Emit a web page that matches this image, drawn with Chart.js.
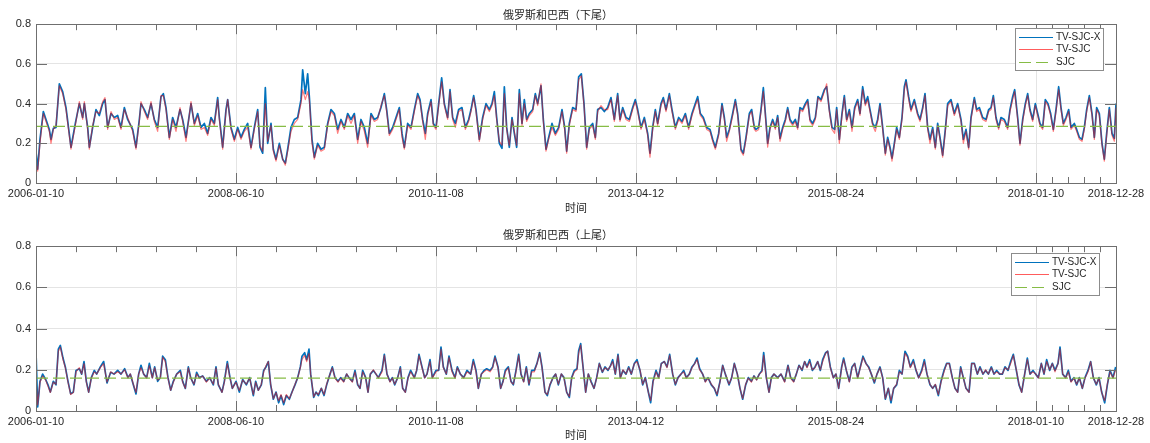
<!DOCTYPE html>
<html>
<head>
<meta charset="utf-8">
<title>俄罗斯和巴西 尾部相关</title>
<script src="https://cdn.jsdelivr.net/npm/chart.js@4.4.1/dist/chart.umd.min.js"></script>
<style>
    html, body { margin: 0; padding: 0; background: #fff; }
    #wrap { position: relative; width: 1150px; height: 443px; }
    #wrap canvas { position: absolute; left: 0; }
    #lowerChart { top: 0; }
    #upperChart { top: 220px; }
</style>
</head>
<body>
<div id="wrap">
    <canvas id="lowerChart" width="1150" height="220"></canvas>
    <canvas id="upperChart" width="1150" height="223"></canvas>
</div>
<script>
// Axis ticks (trading-day index from 2006-01-10)
const majorDays = [0, 600, 1200, 1800, 2400, 3000, 3240];
const dateLabels = ['2006-01-10', '2008-06-10', '2010-11-08', '2013-04-12', '2015-08-24', '2018-01-10', '2018-12-28'];
const yTicks = [0, 0.2, 0.4, 0.6, 0.8];
const seriesNames = ['TV-SJC-X', 'TV-SJC', 'SJC'];

// Lower tail (下尾)
const lowerSJC = 0.285;
const lowerDays = [
    0, 5, 12, 22, 30, 40, 45, 52, 60, 70, 80, 90, 105, 118, 130, 140, 145, 155, 160, 170,
    180, 190, 200, 207, 215, 225, 235, 245, 255, 265, 275, 290, 300, 310, 315, 325, 335, 345, 355, 365,
    375, 382, 390, 400, 410, 420, 432, 440, 450, 465, 475, 485, 495, 505, 515, 525, 535, 545, 550, 560,
    570, 575, 585, 595, 605, 615, 625, 635, 645, 655, 665, 672, 680, 688, 695, 705, 712, 720, 730, 740,
    748, 755, 765, 775, 785, 795, 800, 808, 815, 820, 828, 835, 845, 855, 865, 875, 885, 895, 905, 915,
    925, 935, 945, 955, 965, 975, 985, 995, 1005, 1015, 1025, 1035, 1045, 1052, 1060, 1070,
    1080, 1090, 1098, 1105, 1115, 1125, 1135, 1145, 1152, 1160, 1168, 1175, 1185, 1192, 1200, 1208, 1217, 1225, 1235, 1242,
    1250, 1258, 1268, 1278, 1288, 1298, 1305, 1313, 1320, 1330, 1340, 1350, 1360, 1368, 1375, 1382, 1390, 1398, 1405, 1412,
    1420, 1428, 1435, 1442, 1450, 1458, 1465, 1472, 1480, 1490, 1498, 1505, 1515, 1522, 1530, 1538, 1548, 1558, 1568, 1578,
    1586, 1592, 1600, 1610, 1620, 1628, 1636, 1644, 1652, 1660, 1670, 1678, 1685, 1695, 1705, 1715, 1725, 1735, 1745, 1752,
    1760, 1770, 1780, 1790, 1798, 1805, 1815, 1825, 1835, 1842, 1850, 1858, 1865, 1875, 1882, 1890, 1900, 1908, 1918, 1928,
    1938, 1948, 1958, 1968, 1978, 1985, 1993, 2002, 2012, 2022, 2030, 2038, 2048, 2058, 2065, 2072, 2080, 2090, 2098, 2105,
    2115, 2122, 2130, 2140, 2147, 2155,
    2160, 2168, 2175, 2182, 2188, 2195, 2202, 2210, 2218, 2225, 2232, 2240, 2248, 2255, 2262, 2270, 2278, 2285, 2292, 2300,
    2308, 2315, 2322, 2330, 2338, 2346, 2355, 2365, 2372, 2380, 2388, 2396, 2402, 2410, 2418, 2425, 2432, 2440, 2448, 2456,
    2465, 2472, 2480, 2488, 2495, 2502, 2510, 2518, 2525, 2532, 2540, 2548, 2555, 2562, 2568, 2575, 2582, 2590, 2598, 2605,
    2610, 2618, 2625, 2635, 2645, 2652, 2660, 2667, 2675, 2682, 2690, 2698, 2705, 2712, 2720, 2728, 2735, 2745, 2755, 2765,
    2775, 2782, 2790, 2798, 2805, 2815, 2822, 2830, 2840, 2850, 2858, 2865, 2872, 2880, 2888, 2895, 2905, 2915, 2922, 2930,
    2936, 2945, 2952, 2960, 2968, 2975, 2982, 2990, 2998, 3005, 3012, 3020, 3028, 3036, 3044, 3052, 3060, 3068, 3075, 3082,
    3090, 3098, 3105, 3115, 3122, 3130, 3138, 3145, 3152, 3160, 3168, 3175, 3182, 3190, 3198, 3205, 3212, 3220, 3228, 3235,
    3240
];
const lowerX = [
    0.16, 0.07, 0.22, 0.36, 0.32, 0.27, 0.22, 0.275, 0.28, 0.50, 0.46, 0.38, 0.18, 0.30, 0.40, 0.33, 0.40, 0.28, 0.18, 0.28,
    0.37, 0.34, 0.40, 0.42, 0.28, 0.35, 0.33, 0.34, 0.28, 0.38, 0.32, 0.27, 0.18, 0.32, 0.40, 0.37, 0.33, 0.40, 0.32, 0.28,
    0.435, 0.45, 0.38, 0.23, 0.33, 0.28, 0.37, 0.32, 0.23, 0.40, 0.30, 0.35, 0.28, 0.30, 0.25, 0.33, 0.30, 0.43, 0.33, 0.18,
    0.37, 0.42, 0.28, 0.22, 0.28, 0.23, 0.27, 0.30, 0.18, 0.28, 0.37, 0.18, 0.15, 0.48, 0.20, 0.30, 0.17, 0.12, 0.20, 0.12,
    0.10, 0.17, 0.28, 0.32, 0.33, 0.42, 0.57, 0.45, 0.55, 0.435, 0.22, 0.13, 0.20, 0.17, 0.18, 0.30, 0.37, 0.35, 0.27, 0.32,
    0.28, 0.35, 0.32, 0.35, 0.22, 0.32, 0.28, 0.20, 0.35, 0.32, 0.33, 0.38, 0.45, 0.37, 0.25, 0.28,
    0.33, 0.38, 0.25, 0.18, 0.30, 0.28, 0.37, 0.45, 0.42, 0.32, 0.25, 0.35, 0.42, 0.30, 0.28, 0.40, 0.53, 0.40, 0.33, 0.47,
    0.33, 0.30, 0.37, 0.38, 0.28, 0.32, 0.37, 0.44, 0.37, 0.22, 0.33, 0.40, 0.37, 0.40, 0.46, 0.33, 0.20, 0.175, 0.485, 0.28,
    0.18, 0.33, 0.25, 0.18, 0.47, 0.30, 0.42, 0.32, 0.35, 0.37, 0.45, 0.40, 0.49, 0.32, 0.17, 0.23, 0.30, 0.25, 0.28, 0.37,
    0.28, 0.16, 0.30, 0.38, 0.37, 0.535, 0.55, 0.40, 0.18, 0.28, 0.30, 0.23, 0.37, 0.38, 0.36, 0.38, 0.43, 0.32, 0.45, 0.32,
    0.38, 0.33, 0.32, 0.38, 0.42, 0.37, 0.28, 0.33, 0.25, 0.15, 0.28, 0.37, 0.30, 0.40, 0.43, 0.37, 0.45, 0.37, 0.28, 0.33,
    0.31, 0.35, 0.28, 0.35, 0.40, 0.435, 0.35, 0.33, 0.28, 0.27, 0.22, 0.18, 0.25, 0.40, 0.33, 0.23, 0.27, 0.35, 0.42, 0.35,
    0.17, 0.15, 0.23, 0.35, 0.37, 0.28,
    0.27, 0.28, 0.37, 0.48, 0.35, 0.20, 0.28, 0.32, 0.28, 0.34, 0.225, 0.28, 0.32, 0.38, 0.32, 0.30, 0.32, 0.28, 0.38, 0.37,
    0.40, 0.42, 0.32, 0.30, 0.33, 0.435, 0.42, 0.47, 0.485, 0.37, 0.28, 0.27, 0.38, 0.22, 0.35, 0.44, 0.32, 0.37, 0.28, 0.38,
    0.42, 0.35, 0.485, 0.40, 0.435, 0.37, 0.30, 0.28, 0.32, 0.40, 0.28, 0.15, 0.23, 0.18, 0.125, 0.20, 0.28, 0.23, 0.33, 0.485,
    0.52, 0.435, 0.37, 0.42, 0.35, 0.32, 0.38, 0.45, 0.28, 0.22, 0.28, 0.18, 0.30, 0.23, 0.14, 0.27, 0.40, 0.42, 0.35, 0.40,
    0.32, 0.22, 0.27, 0.18, 0.33, 0.43, 0.37, 0.38, 0.33, 0.32, 0.37, 0.38, 0.44, 0.33, 0.28, 0.33, 0.32, 0.28, 0.37, 0.435,
    0.47, 0.33, 0.20, 0.32, 0.40, 0.45, 0.37, 0.32, 0.40, 0.35, 0.30, 0.28, 0.42, 0.40, 0.35, 0.27, 0.37, 0.485, 0.38, 0.30,
    0.33, 0.37, 0.28, 0.30, 0.27, 0.23, 0.22, 0.28, 0.37, 0.44, 0.35, 0.23, 0.38, 0.35, 0.20, 0.12, 0.25, 0.38, 0.25, 0.225,
    0.40
];
const lowerTV = [
    0.10, 0.06, 0.20, 0.35, 0.31, 0.26, 0.20, 0.27, 0.29, 0.49, 0.45, 0.37, 0.17, 0.29, 0.41, 0.32, 0.41, 0.27, 0.17, 0.29,
    0.36, 0.35, 0.41, 0.43, 0.27, 0.36, 0.32, 0.33, 0.27, 0.37, 0.33, 0.26, 0.17, 0.31, 0.41, 0.36, 0.32, 0.41, 0.31, 0.26,
    0.44, 0.44, 0.37, 0.22, 0.32, 0.26, 0.38, 0.31, 0.21, 0.41, 0.29, 0.34, 0.27, 0.28, 0.24, 0.32, 0.29, 0.42, 0.32, 0.17,
    0.36, 0.42, 0.27, 0.21, 0.27, 0.22, 0.26, 0.28, 0.17, 0.27, 0.36, 0.19, 0.16, 0.40, 0.21, 0.29, 0.16, 0.11, 0.19, 0.12,
    0.09, 0.16, 0.26, 0.30, 0.32, 0.40, 0.47, 0.42, 0.46, 0.42, 0.20, 0.12, 0.19, 0.16, 0.17, 0.29, 0.36, 0.34, 0.25, 0.31,
    0.27, 0.34, 0.30, 0.34, 0.20, 0.31, 0.26, 0.18, 0.34, 0.31, 0.32, 0.39, 0.44, 0.36, 0.24, 0.27,
    0.32, 0.37, 0.23, 0.17, 0.29, 0.27, 0.36, 0.44, 0.41, 0.31, 0.22, 0.34, 0.41, 0.29, 0.27, 0.39, 0.51, 0.39, 0.32, 0.46,
    0.32, 0.28, 0.36, 0.37, 0.27, 0.31, 0.36, 0.43, 0.36, 0.21, 0.32, 0.39, 0.36, 0.39, 0.44, 0.32, 0.21, 0.19, 0.45, 0.27,
    0.19, 0.32, 0.26, 0.19, 0.45, 0.29, 0.40, 0.31, 0.34, 0.36, 0.44, 0.39, 0.50, 0.31, 0.16, 0.22, 0.28, 0.24, 0.27, 0.36,
    0.27, 0.15, 0.29, 0.37, 0.36, 0.52, 0.54, 0.39, 0.17, 0.27, 0.29, 0.22, 0.36, 0.39, 0.37, 0.37, 0.42, 0.31, 0.44, 0.31,
    0.37, 0.32, 0.31, 0.37, 0.41, 0.36, 0.27, 0.32, 0.24, 0.13, 0.27, 0.36, 0.29, 0.39, 0.42, 0.36, 0.44, 0.36, 0.27, 0.32,
    0.30, 0.34, 0.27, 0.34, 0.39, 0.42, 0.34, 0.32, 0.27, 0.26, 0.21, 0.17, 0.24, 0.39, 0.32, 0.21, 0.26, 0.34, 0.41, 0.34,
    0.16, 0.14, 0.22, 0.34, 0.36, 0.27,
    0.26, 0.27, 0.36, 0.46, 0.34, 0.18, 0.27, 0.31, 0.27, 0.33, 0.21, 0.27, 0.31, 0.37, 0.31, 0.29, 0.31, 0.27, 0.37, 0.36,
    0.39, 0.41, 0.31, 0.29, 0.32, 0.43, 0.41, 0.46, 0.50, 0.36, 0.27, 0.25, 0.37, 0.20, 0.34, 0.43, 0.31, 0.36, 0.26, 0.37,
    0.41, 0.34, 0.47, 0.39, 0.42, 0.36, 0.29, 0.26, 0.31, 0.39, 0.27, 0.14, 0.22, 0.17, 0.11, 0.19, 0.27, 0.22, 0.32, 0.47,
    0.51, 0.42, 0.36, 0.41, 0.34, 0.31, 0.37, 0.44, 0.27, 0.20, 0.27, 0.17, 0.29, 0.22, 0.13, 0.26, 0.39, 0.41, 0.34, 0.39,
    0.31, 0.20, 0.26, 0.17, 0.32, 0.42, 0.36, 0.37, 0.32, 0.31, 0.36, 0.37, 0.43, 0.32, 0.27, 0.32, 0.31, 0.27, 0.36, 0.42,
    0.46, 0.32, 0.19, 0.31, 0.39, 0.44, 0.36, 0.31, 0.39, 0.34, 0.29, 0.27, 0.41, 0.39, 0.34, 0.26, 0.36, 0.47, 0.37, 0.29,
    0.32, 0.36, 0.27, 0.29, 0.26, 0.22, 0.21, 0.27, 0.36, 0.43, 0.34, 0.22, 0.37, 0.34, 0.19, 0.11, 0.24, 0.37, 0.24, 0.21,
    0.38
];

// Upper tail (上尾)
const upperSJC = 0.16;
const upperDays = [
    0, 5, 12, 20, 29, 36, 43, 52, 60, 67, 73, 81, 88, 96, 104, 112, 120, 130, 137, 144,
    151, 158, 166, 175, 182, 193, 203, 213, 224, 234, 245, 255, 266, 276, 283, 292, 300, 308, 315, 323,
    332, 340, 349, 356, 365, 373, 380, 388, 396, 404, 412, 422, 433, 440, 448, 457, 464, 474, 482, 490,
    500, 511, 521, 532, 540, 547, 558, 565, 574, 582, 589, 600, 610, 620, 631, 641, 652, 659, 667, 676,
    683, 690, 697, 704, 712, 720, 728, 735, 743, 751, 760, 768, 777, 785, 793, 798, 806, 812, 819, 824,
    833, 840, 847, 856, 864, 872, 882, 889, 897, 906, 914, 923, 932, 939, 949, 957, 965, 972, 980, 989,
    996, 1003, 1012, 1020, 1027, 1038, 1045, 1053, 1062, 1069, 1076, 1085, 1093, 1100, 1108, 1116, 1124, 1135, 1142, 1149,
    1158, 1166, 1173, 1182, 1189, 1200, 1208, 1215, 1222, 1231, 1239, 1248, 1257, 1264, 1273, 1283, 1293, 1304, 1312, 1320,
    1327, 1336, 1344, 1352, 1362, 1370, 1377, 1386, 1394, 1401, 1408, 1417, 1425, 1432, 1440, 1448, 1455, 1463, 1471, 1479,
    1487, 1495, 1503, 1511, 1518, 1527, 1534, 1542, 1551, 1559, 1567, 1576, 1584, 1592, 1600, 1607, 1615, 1623,
    1628, 1634, 1640, 1649, 1657, 1665, 1674, 1682, 1690, 1699, 1707, 1716, 1724, 1730, 1738, 1746, 1753, 1761, 1770, 1778,
    1786, 1795, 1803, 1812, 1820, 1828, 1837, 1844, 1851, 1860, 1868, 1876, 1885, 1893, 1901, 1910, 1918, 1926, 1935, 1943,
    1951, 1960, 1968, 1976, 1983, 1991, 2000, 2008, 2016, 2026, 2035, 2043, 2052, 2060, 2068, 2079, 2087, 2095, 2104, 2112,
    2120, 2129, 2137, 2146, 2154, 2162, 2170, 2178, 2183, 2191, 2199, 2206, 2214, 2225, 2235, 2246, 2256, 2264, 2273, 2281,
    2289, 2298, 2306, 2313, 2321, 2329, 2337, 2345, 2353, 2360, 2369, 2375, 2383, 2392, 2400, 2408, 2417, 2423, 2431, 2440,
    2448, 2456, 2465, 2473, 2481, 2490, 2498, 2506, 2515, 2523, 2532, 2540, 2548, 2557, 2565, 2573, 2582, 2590, 2598, 2607,
    2615, 2623, 2632, 2640, 2648, 2657, 2665, 2673, 2682, 2690, 2698, 2707, 2715, 2724, 2732, 2740, 2749, 2757, 2765, 2774,
    2782, 2790, 2799, 2807, 2815, 2824, 2832, 2841, 2849, 2857, 2866, 2874, 2882, 2891, 2899, 2907, 2916, 2924, 2932, 2941,
    2949, 2957, 2966, 2974, 2982, 2991, 2999, 3007, 3016, 3024, 3032, 3041, 3049, 3057, 3066, 3072, 3080, 3089, 3097, 3105,
    3114, 3122, 3130, 3139, 3147, 3156, 3164, 3172, 3181, 3189, 3197, 3206, 3214, 3222, 3231, 3239
];
const upperX = [
    0.29, 0.02, 0.144, 0.179, 0.153, 0.127, 0.092, 0.144, 0.127, 0.30, 0.318, 0.257, 0.214, 0.144, 0.083, 0.092, 0.197, 0.205, 0.179, 0.24,
    0.144, 0.092, 0.162, 0.197, 0.179, 0.214, 0.24, 0.136, 0.188, 0.179, 0.197, 0.179, 0.205, 0.162, 0.179, 0.127, 0.083, 0.179, 0.222, 0.179,
    0.162, 0.231, 0.162, 0.214, 0.144, 0.162, 0.266, 0.249, 0.162, 0.101, 0.144, 0.179, 0.197, 0.144, 0.11, 0.214, 0.162, 0.127, 0.188, 0.162,
    0.170, 0.144, 0.162, 0.127, 0.214, 0.127, 0.092, 0.144, 0.24, 0.162, 0.11, 0.144, 0.092, 0.153, 0.127, 0.162, 0.075, 0.144, 0.101, 0.127,
    0.197, 0.214, 0.24, 0.127, 0.057, 0.092, 0.04, 0.075, 0.031, 0.075, 0.057, 0.092, 0.127, 0.162, 0.214, 0.266, 0.283, 0.249, 0.30, 0.179,
    0.066, 0.092, 0.075, 0.11, 0.075, 0.127, 0.179, 0.214, 0.162, 0.144, 0.162, 0.144, 0.179, 0.162, 0.144, 0.197, 0.127, 0.11, 0.197, 0.162,
    0.092, 0.179, 0.197, 0.179, 0.162, 0.197, 0.275, 0.179, 0.144, 0.162, 0.127, 0.162, 0.214, 0.11, 0.092, 0.162, 0.197, 0.162, 0.197, 0.275,
    0.214, 0.162, 0.179, 0.249, 0.162, 0.197, 0.197, 0.31, 0.214, 0.179, 0.266, 0.197, 0.162, 0.214, 0.179, 0.162, 0.197, 0.179, 0.249, 0.197,
    0.11, 0.179, 0.197, 0.205, 0.197, 0.214, 0.266, 0.214, 0.11, 0.144, 0.197, 0.214, 0.144, 0.127, 0.197, 0.275, 0.179, 0.144, 0.214, 0.127,
    0.197, 0.197, 0.231, 0.283, 0.214, 0.092, 0.075, 0.127, 0.162, 0.179, 0.127, 0.179, 0.162, 0.092, 0.066, 0.162, 0.197, 0.205,
    0.292, 0.327, 0.231, 0.092, 0.179, 0.144, 0.11, 0.162, 0.231, 0.188, 0.214, 0.197, 0.222, 0.249, 0.179, 0.275, 0.162, 0.197, 0.179, 0.214,
    0.179, 0.231, 0.249, 0.197, 0.127, 0.162, 0.092, 0.04, 0.144, 0.197, 0.162, 0.231, 0.24, 0.214, 0.275, 0.179, 0.127, 0.162, 0.179, 0.197,
    0.162, 0.179, 0.214, 0.231, 0.257, 0.205, 0.179, 0.144, 0.162, 0.127, 0.11, 0.075, 0.144, 0.222, 0.179, 0.127, 0.162, 0.231, 0.179, 0.11,
    0.057, 0.127, 0.162, 0.144, 0.170, 0.153, 0.179, 0.197, 0.283, 0.162, 0.092, 0.162, 0.179, 0.162, 0.179, 0.144, 0.222, 0.162, 0.144, 0.179,
    0.222, 0.197, 0.24, 0.214, 0.249, 0.197, 0.214, 0.24, 0.197, 0.249, 0.283, 0.29, 0.214, 0.162, 0.179, 0.11, 0.214, 0.257, 0.197, 0.144,
    0.214, 0.231, 0.162, 0.214, 0.266, 0.231, 0.214, 0.179, 0.136, 0.179, 0.214, 0.162, 0.057, 0.11, 0.04, 0.11, 0.127, 0.197, 0.179, 0.29,
    0.266, 0.214, 0.249, 0.197, 0.162, 0.197, 0.249, 0.179, 0.127, 0.11, 0.127, 0.075, 0.144, 0.197, 0.231, 0.231, 0.162, 0.11, 0.092, 0.214,
    0.162, 0.11, 0.092, 0.231, 0.231, 0.179, 0.214, 0.179, 0.197, 0.179, 0.214, 0.179, 0.197, 0.179, 0.179, 0.214, 0.197, 0.24, 0.275, 0.197,
    0.127, 0.092, 0.179, 0.257, 0.179, 0.197, 0.179, 0.162, 0.231, 0.179, 0.249, 0.197, 0.231, 0.197, 0.231, 0.31, 0.179, 0.162, 0.197, 0.144,
    0.162, 0.127, 0.162, 0.11, 0.162, 0.197, 0.24, 0.162, 0.127, 0.162, 0.092, 0.04, 0.127, 0.197, 0.162, 0.214
];
const upperTV = [
    0.16, 0.03, 0.14, 0.17, 0.15, 0.12, 0.09, 0.14, 0.13, 0.29, 0.31, 0.25, 0.21, 0.14, 0.08, 0.09, 0.19, 0.21, 0.18, 0.23,
    0.14, 0.09, 0.16, 0.19, 0.18, 0.21, 0.23, 0.14, 0.19, 0.18, 0.19, 0.18, 0.20, 0.16, 0.18, 0.13, 0.09, 0.18, 0.21, 0.18,
    0.16, 0.22, 0.16, 0.21, 0.15, 0.16, 0.26, 0.24, 0.16, 0.10, 0.14, 0.18, 0.19, 0.14, 0.11, 0.21, 0.16, 0.13, 0.18, 0.16,
    0.17, 0.14, 0.16, 0.13, 0.21, 0.13, 0.09, 0.14, 0.23, 0.16, 0.11, 0.14, 0.10, 0.15, 0.13, 0.16, 0.08, 0.14, 0.10, 0.13,
    0.19, 0.22, 0.24, 0.13, 0.06, 0.09, 0.05, 0.08, 0.04, 0.08, 0.06, 0.09, 0.13, 0.16, 0.21, 0.25, 0.27, 0.24, 0.28, 0.18,
    0.07, 0.09, 0.08, 0.11, 0.08, 0.13, 0.18, 0.21, 0.16, 0.14, 0.16, 0.14, 0.18, 0.16, 0.14, 0.19, 0.13, 0.11, 0.19, 0.16,
    0.09, 0.18, 0.20, 0.18, 0.16, 0.19, 0.27, 0.18, 0.14, 0.16, 0.13, 0.16, 0.21, 0.11, 0.09, 0.16, 0.19, 0.16, 0.20, 0.27,
    0.21, 0.16, 0.18, 0.24, 0.16, 0.19, 0.20, 0.30, 0.21, 0.18, 0.26, 0.19, 0.16, 0.21, 0.18, 0.16, 0.19, 0.18, 0.24, 0.19,
    0.11, 0.18, 0.19, 0.20, 0.19, 0.21, 0.26, 0.21, 0.11, 0.14, 0.19, 0.21, 0.14, 0.13, 0.19, 0.27, 0.18, 0.14, 0.21, 0.13,
    0.19, 0.19, 0.23, 0.28, 0.21, 0.09, 0.08, 0.13, 0.16, 0.18, 0.13, 0.18, 0.16, 0.09, 0.07, 0.16, 0.19, 0.20,
    0.28, 0.32, 0.23, 0.09, 0.18, 0.14, 0.11, 0.16, 0.23, 0.19, 0.21, 0.20, 0.22, 0.24, 0.18, 0.27, 0.16, 0.20, 0.18, 0.21,
    0.18, 0.23, 0.24, 0.20, 0.13, 0.16, 0.09, 0.05, 0.14, 0.19, 0.16, 0.23, 0.24, 0.21, 0.27, 0.18, 0.13, 0.16, 0.18, 0.19,
    0.16, 0.18, 0.21, 0.23, 0.25, 0.20, 0.18, 0.14, 0.16, 0.13, 0.11, 0.08, 0.14, 0.22, 0.18, 0.13, 0.16, 0.23, 0.18, 0.11,
    0.06, 0.13, 0.16, 0.14, 0.17, 0.15, 0.18, 0.19, 0.27, 0.16, 0.09, 0.16, 0.18, 0.16, 0.18, 0.14, 0.22, 0.16, 0.14, 0.18,
    0.22, 0.20, 0.24, 0.21, 0.24, 0.20, 0.21, 0.24, 0.20, 0.24, 0.28, 0.29, 0.21, 0.16, 0.18, 0.11, 0.21, 0.25, 0.20, 0.14,
    0.21, 0.23, 0.16, 0.21, 0.26, 0.23, 0.21, 0.18, 0.14, 0.18, 0.21, 0.16, 0.06, 0.11, 0.05, 0.11, 0.13, 0.19, 0.18, 0.28,
    0.26, 0.21, 0.24, 0.20, 0.16, 0.19, 0.24, 0.18, 0.13, 0.11, 0.13, 0.08, 0.14, 0.19, 0.23, 0.23, 0.16, 0.11, 0.09, 0.21,
    0.16, 0.11, 0.09, 0.23, 0.23, 0.18, 0.21, 0.18, 0.20, 0.18, 0.21, 0.18, 0.19, 0.18, 0.18, 0.21, 0.20, 0.23, 0.27, 0.20,
    0.13, 0.09, 0.18, 0.25, 0.18, 0.19, 0.18, 0.16, 0.23, 0.18, 0.24, 0.20, 0.23, 0.19, 0.23, 0.30, 0.18, 0.16, 0.19, 0.14,
    0.16, 0.13, 0.16, 0.11, 0.16, 0.19, 0.24, 0.16, 0.13, 0.16, 0.09, 0.05, 0.13, 0.19, 0.16, 0.20
];

Chart.defaults.font.family = '"Liberation Sans", Arial, "Noto Sans CJK SC", sans-serif';
Chart.defaults.font.size = 11;
Chart.defaults.color = '#262626';

const axisColor = '#6f6f6f';

// MATLAB-style minor ticks: four between each pair of major ticks
const minorDays = [];
for (let i = 0; i < majorDays.length - 1; i++) {
    const step = (majorDays[i + 1] - majorDays[i]) / 5;
    for (let k = 1; k < 5; k++) minorDays.push(majorDays[i] + k * step);
}

// Box, inward ticks and the boxed legend
const matlabAxes = {
    id: 'matlabAxes',
    afterDatasetsDraw(chart, args, opts) {
        const { ctx, chartArea: a, scales: { x, y } } = chart;
        ctx.save();
        ctx.strokeStyle = axisColor;
        ctx.lineWidth = 1;
        ctx.beginPath();
        const tick = (px, len) => {
            const p = Math.round(px) + 0.5;
            ctx.moveTo(p, a.bottom); ctx.lineTo(p, a.bottom - len);
            ctx.moveTo(p, a.top); ctx.lineTo(p, a.top + len);
        };
        majorDays.forEach(d => tick(x.getPixelForValue(d), 10));
        minorDays.forEach(d => tick(x.getPixelForValue(d), 6));
        yTicks.forEach(v => {
            const p = Math.round(y.getPixelForValue(v)) + 0.5;
            ctx.moveTo(a.left, p); ctx.lineTo(a.left + 11, p);
            ctx.moveTo(a.right, p); ctx.lineTo(a.right - 11, p);
        });
        ctx.stroke();
        ctx.strokeRect(Math.round(a.left) + 0.5, Math.round(a.top) + 0.5,
            Math.round(a.right - a.left), Math.round(a.bottom - a.top));

        // legend
        const box = opts.box;
        ctx.fillStyle = '#fff';
        ctx.fillRect(box.left, box.top, box.width, box.height);
        ctx.strokeStyle = '#8c8c8c';
        ctx.strokeRect(box.left + 0.5, box.top + 0.5, box.width, box.height);
        ctx.font = '10px "Liberation Sans", Arial, sans-serif';
        ctx.textBaseline = 'middle';
        ctx.fillStyle = '#262626';
        chart.data.datasets.forEach((ds, i) => {
            const ry = Math.round(box.top + 9 + i * 12.4) + 0.5;
            ctx.strokeStyle = ds.legendColor || ds.borderColor;
            ctx.lineWidth = 1.2;
            ctx.setLineDash(ds.borderDash || []);
            ctx.beginPath();
            ctx.moveTo(box.left + 4, ry);
            ctx.lineTo(box.left + 38, ry);
            ctx.stroke();
            ctx.setLineDash([]);
            ctx.fillText(ds.label, box.left + 41, ry);
        });
        ctx.restore();
    }
};

function toPoints(days, values) {
    return days.map((d, i) => ({ x: d, y: values[i] }));
}

function makePanel(canvasId, title, days, xVals, tvVals, sjc, layout) {
    return new Chart(document.getElementById(canvasId), {
        type: 'line',
        data: {
            datasets: [
                {
                    label: seriesNames[0],
                    data: toPoints(days, xVals),
                    borderColor: '#0072BD',
                    borderWidth: 1.7,
                    order: 3
                },
                {
                    label: seriesNames[1],
                    data: toPoints(days, tvVals),
                    borderColor: 'rgba(255, 0, 0, 0.5)',
                    legendColor: '#ff5c5c',
                    borderWidth: 1.2,
                    order: 2
                },
                {
                    label: seriesNames[2],
                    data: [{ x: majorDays[0], y: sjc }, { x: majorDays[majorDays.length - 1], y: sjc }],
                    borderColor: '#86bc45',
                    borderWidth: 1.2,
                    borderDash: [12, 5],
                    order: 1
                }
            ]
        },
        options: {
            responsive: false,
            animation: false,
            elements: {
                point: { radius: 0 },
                line: { tension: 0, borderJoinStyle: 'round' }
            },
            layout: { padding: { left: 0, right: 34, top: 0, bottom: 0 } },
            plugins: {
                legend: { display: false },
                tooltip: { enabled: false },
                title: {
                    display: true,
                    text: title,
                    font: { size: 11, weight: 'normal' },
                    color: '#262626',
                    padding: layout.titlePadding
                },
                matlabAxes: { box: layout.legendBox }
            },
            scales: {
                x: {
                    type: 'linear',
                    min: majorDays[0],
                    max: majorDays[majorDays.length - 1],
                    afterBuildTicks: s => { s.ticks = majorDays.map(v => ({ value: v })); },
                    afterFit: s => { s.height = layout.xAxisHeight; },
                    ticks: {
                        autoSkip: false,
                        maxRotation: 0,
                        padding: layout.tickPadding,
                        callback: (v, i) => dateLabels[i]
                    },
                    grid: { color: '#e4e4e4', drawTicks: false },
                    border: { display: false },
                    title: {
                        display: true,
                        text: '时间',
                        font: { size: 11 },
                        padding: { top: 0, bottom: layout.xTitlePad }
                    }
                },
                y: {
                    min: 0,
                    max: 0.8,
                    afterBuildTicks: s => { s.ticks = yTicks.map(v => ({ value: v })); },
                    afterFit: s => { s.width = 36; },
                    ticks: {
                        padding: 5,
                        callback: v => (v === 0 ? '0' : v.toFixed(1))
                    },
                    grid: { color: '#e4e4e4', drawTicks: false },
                    border: { display: false }
                }
            }
        },
        plugins: [matlabAxes]
    });
}

makePanel('lowerChart', '俄罗斯和巴西（下尾）', lowerDays, lowerX, lowerTV, lowerSJC, {
    titlePadding: { top: 9, bottom: 2 },
    xAxisHeight: 37,
    tickPadding: 4,
    xTitlePad: 4,
    legendBox: { left: 1015, top: 28, width: 88, height: 42 }
});

makePanel('upperChart', '俄罗斯和巴西（上尾）', upperDays, upperX, upperTV, upperSJC, {
    titlePadding: { top: 9, bottom: 4 },
    xAxisHeight: 32,
    tickPadding: 4,
    xTitlePad: 0,
    legendBox: { left: 1011, top: 33, width: 88, height: 42 }
});
</script>
</body>
</html>
